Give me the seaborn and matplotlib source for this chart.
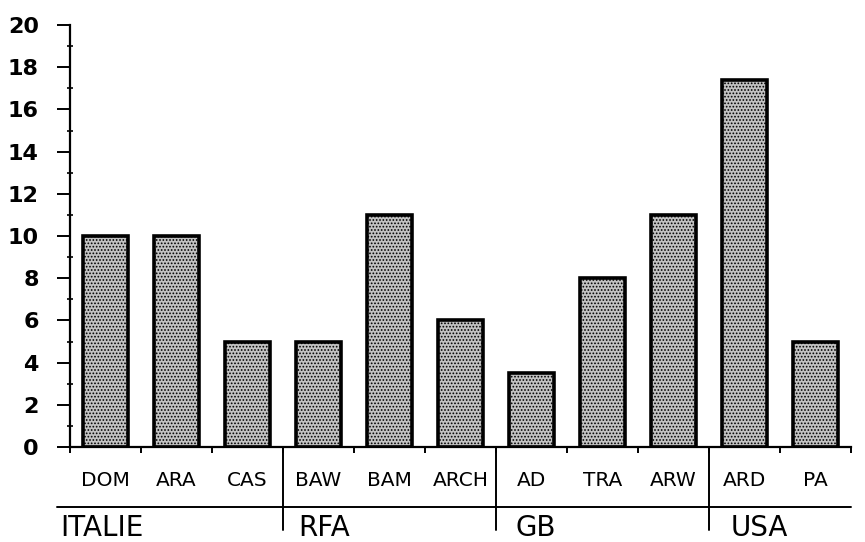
import matplotlib
matplotlib.use("Agg")
import matplotlib.pyplot as plt
import matplotlib.transforms as mtransforms
import seaborn as sns
import pandas as pd
import numpy as np

categories = ["DOM", "ARA", "CAS", "BAW", "BAM", "ARCH", "AD", "TRA", "ARW", "ARD", "PA"]
values = [10, 10, 5, 5, 11, 6, 3.5, 8, 11, 17.4, 5]
groups = ["ITALIE", "RFA", "GB", "USA"]
group_sizes = [3, 3, 3, 2]
yticks = list(range(0, 21, 2))

sns.set_theme(style="white")
plt.rcParams["font.family"] = ["DejaVu Sans"]
plt.rcParams["hatch.linewidth"] = 0.8

df = pd.DataFrame({"cat": categories, "val": values})

fig = plt.figure(figsize=(8.65, 5.42), dpi=100)
ax = fig.add_axes([70 / 865, 95 / 542, 781 / 865, 422 / 542])

sns.barplot(data=df, x="cat", y="val", order=categories, color="#c2c2c2",
            edgecolor="black", linewidth=2.6, width=0.62, saturation=1, ax=ax)
for p in ax.patches:
    p.set_hatch(".....")

ax.set_xlim(-0.5, len(categories) - 0.5)
ax.set_ylim(0, 20)
ax.set_xlabel("")
ax.set_ylabel("")

for s in ["top", "right"]:
    ax.spines[s].set_visible(False)
for s in ["left", "bottom"]:
    ax.spines[s].set_linewidth(1.6)
    ax.spines[s].set_color("black")

ax.set_yticks(yticks)
ax.set_yticklabels([str(t) for t in yticks], fontsize=16, fontweight="bold",
                   color="black")
ax.set_yticks(range(1, 20, 2), minor=True)
ax.tick_params(axis="y", which="major", direction="out", length=9.5, width=1.4,
               color="black", pad=13, left=True, labelcolor="black")
ax.tick_params(axis="y", which="minor", direction="inout", length=5, width=1.2,
               color="black", left=True)

bounds = np.arange(-0.5, len(categories), 1.0)
ax.set_xticks(bounds)
ax.set_xticklabels([])
ax.tick_params(axis="x", which="major", direction="out", length=4, width=1.4,
               color="black", bottom=True)

trans = mtransforms.blended_transform_factory(ax.transData, fig.transFigure)
for i, c in enumerate(categories):
    ax.text(i, (542 - 481) / 542, c, transform=trans, ha="center", va="center",
            fontsize=14.5, color="black")

# table lines
ax.plot([-0.5 - 13 / 71, 10.5], [35 / 542, 35 / 542], transform=trans,
        color="black", lw=1.4, clip_on=False)
start = 0
group_starts = []
for g, n in zip(groups, group_sizes):
    group_starts.append(start)
    start += n
for s in group_starts[1:]:
    ax.plot([s - 0.5, s - 0.5], [95 / 542, 12 / 542], transform=trans,
            color="black", lw=1.4, clip_on=False)

label_x = [-0.64, 2.71, 5.77, 8.8]
for g, lx in zip(groups, label_x):
    ax.text(lx, 14 / 542, g, transform=trans, ha="left", va="center",
            fontsize=20, color="black")

fig.savefig("out.png", dpi=100)
